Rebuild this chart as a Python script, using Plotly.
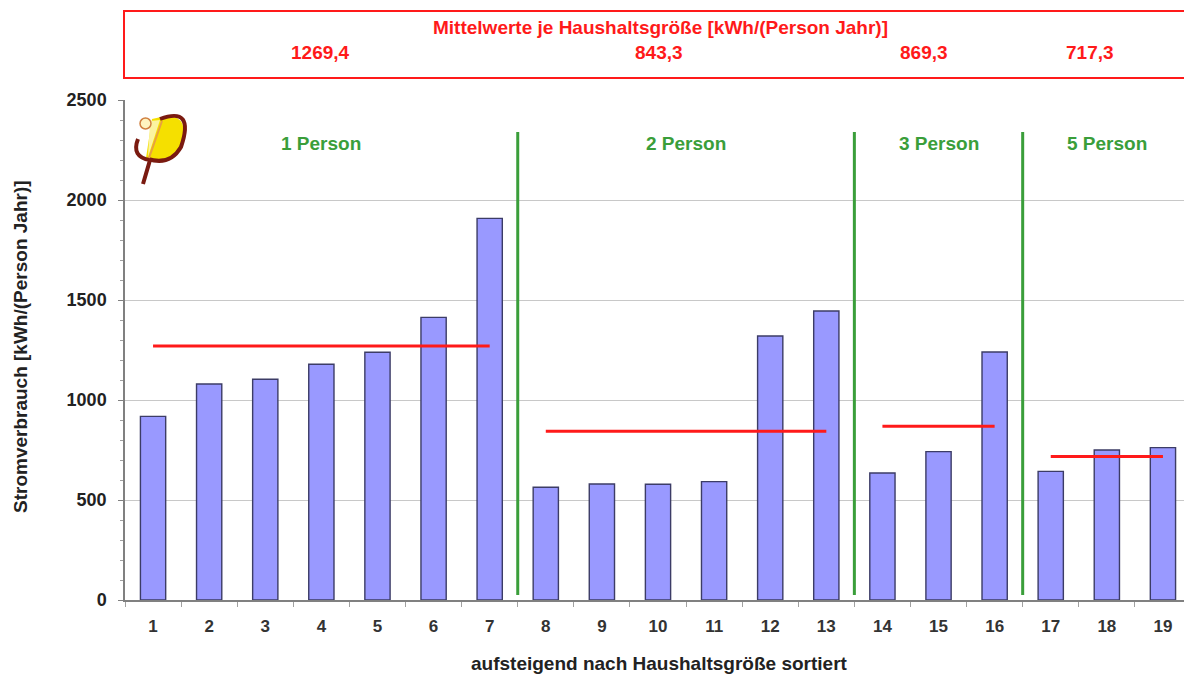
import plotly.graph_objects as go

# ---------------- data ----------------
households = [str(i) for i in range(1, 20)]
consumption = [918, 1080, 1104, 1179, 1239, 1413, 1908,
               564, 580, 579, 592, 1320, 1445,
               635, 742, 1240,
               643, 750, 762]
group_labels = ["1 Person", "2 Person", "3 Person", "5 Person"]
group_sizes = [7, 6, 3, 3]
group_means = [1269.4, 843.3, 869.3, 717.3]
mean_labels = ["1269,4", "843,3", "869,3", "717,3"]
box_title = "Mittelwerte je Haushaltsgröße [kWh/(Person Jahr)]"
y_title = "Stromverbrauch [kWh/(Person Jahr)]"
x_title = "aufsteigend nach Haushaltsgröße sortiert"

# ---------------- layout constants ----------------
# page body has an 8px margin: figure coords = screen coords - 8
OFF = 8
W, H = 1192 - OFF, 675 - OFF
PL, PR, PT, PB = 125, 1191, 100, 600          # plot area in screen px
ML, MR, MT, MB = PL - OFF, W - (PR - OFF), PT - OFF, H - (PB - OFF)
PW, PH = PR - PL, PB - PT
RED = "#ff1a1a"
GREEN = "#3a9e3a"
FONT = "Liberation Sans, Arial, sans-serif"


def px(x):
    return (x - PL) / PW


def py(y):
    return (PB - y) / PH


fig = go.Figure()

fig.add_trace(go.Bar(
    x=households, y=consumption, width=0.45,
    marker=dict(color="#9999ff", line=dict(color="#3c3c66", width=1.4)),
    showlegend=False, hoverinfo="x+y"))

# group mean lines and separators
start = 0
sep_positions = []
for g, n in enumerate(group_sizes):
    xs = [households[start], households[start + n - 1]]
    fig.add_trace(go.Scatter(x=xs, y=[group_means[g]] * 2, mode="lines",
                             line=dict(color=RED, width=3), showlegend=False,
                             hoverinfo="skip"))
    fig.add_annotation(x=start + (n - 1) / 2, y=2285, text="<b>%s</b>" % group_labels[g],
                       showarrow=False, xanchor="center", yanchor="middle",
                       font=dict(color=GREEN, size=19, family=FONT))
    start += n
    if g < len(group_sizes) - 1:
        sep_positions.append(start - 0.5)

for s in sep_positions:
    fig.add_shape(type="line", xref="x", yref="y", x0=s, x1=s, y0=25, y1=2340,
                  line=dict(color=GREEN, width=3))

# top box with means
fig.add_shape(type="rect", xref="paper", yref="paper",
              x0=px(124), x1=px(1205), y0=py(78), y1=py(11),
              line=dict(color=RED, width=2), fillcolor="white", layer="below")
fig.add_annotation(xref="paper", yref="paper", x=px(660), y=py(27),
                   text="<b>%s</b>" % box_title, showarrow=False,
                   xanchor="center", yanchor="middle",
                   font=dict(color=RED, size=19, family=FONT))
label_px = [320, 659, 924, 1090]
for lbl, xp in zip(mean_labels, label_px):
    fig.add_annotation(xref="paper", yref="paper", x=px(xp), y=py(53),
                       text="<b>%s</b>" % lbl, showarrow=False,
                       xanchor="center", yanchor="middle",
                       font=dict(color=RED, size=19, family=FONT))

# axis titles
fig.add_annotation(xref="paper", yref="paper", x=px(20), y=py(347),
                   text="<b>%s</b>" % y_title, textangle=-90, showarrow=False,
                   xanchor="center", yanchor="middle",
                   font=dict(color="#222222", size=19, family=FONT))
fig.add_annotation(xref="paper", yref="paper", x=px(659), y=py(663),
                   text="<b>%s</b>" % x_title, showarrow=False,
                   xanchor="center", yanchor="middle",
                   font=dict(color="#222222", size=19, family=FONT))

# logo (decoration)
logo_fill = "M %f,%f Q %f,%f %f,%f Q %f,%f %f,%f Z" % (
    px(152), py(119), px(194), py(108), px(180), py(146),
    px(170), py(164), px(146), py(158))
fig.add_shape(type="path", xref="paper", yref="paper", path=logo_fill,
              fillcolor="#f5e000", line=dict(width=0))
logo_pale = "M %f,%f L %f,%f L %f,%f Z" % (
    px(150), py(121), px(160), py(120), px(148), py(157))
fig.add_shape(type="path", xref="paper", yref="paper", path=logo_pale,
              fillcolor="#fbf3a0", line=dict(width=0))
logo_curve = "M %f,%f Q %f,%f %f,%f Q %f,%f %f,%f" % (
    px(160), py(119), px(195), py(106), px(181), py(147),
    px(170), py(166), px(148), py(159))
fig.add_shape(type="path", xref="paper", yref="paper", path=logo_curve,
              line=dict(color="#7a1a10", width=4))
logo_hook = "M %f,%f Q %f,%f %f,%f L %f,%f" % (
    px(138), py(139), px(131), py(157), px(150), py(160),
    px(143), py(184))
fig.add_shape(type="path", xref="paper", yref="paper", path=logo_hook,
              line=dict(color="#7a1a10", width=4))
fig.add_shape(type="line", xref="paper", yref="paper",
              x0=px(149), y0=py(158), x1=px(162), y1=py(121),
              line=dict(color="#e8a040", width=2))
fig.add_shape(type="circle", xref="paper", yref="paper",
              x0=px(140), x1=px(151), y0=py(129), y1=py(118),
              fillcolor="#fff4c0", line=dict(color="#d08040", width=1.5))

fig.update_layout(
    width=W, height=H,
    margin=dict(l=ML, r=MR, t=MT, b=MB),
    plot_bgcolor="white", paper_bgcolor="white",
    font=dict(family=FONT, color="#222222"),
    bargap=0.5,
    xaxis=dict(type="category", range=[-0.5, 18.5], showgrid=False,
               showline=True, linecolor="#808080", linewidth=1.5,
               ticks="outside", tickson="boundaries", ticklen=5, tickcolor="#a0a0a0",
               tickfont=dict(size=17, family=FONT, color="#333333"),
               ticklabelstandoff=10, fixedrange=True),
    yaxis=dict(range=[0, 2500], dtick=500, showgrid=True, gridcolor="#c8c8c8",
               gridwidth=1.2, showline=True, linecolor="#808080", linewidth=1.5,
               ticks="outside", ticklen=5, tickcolor="#808080",
               minor=dict(dtick=100, ticks="outside", ticklen=3, tickcolor="#a0a0a0",
                          showgrid=False),
               tickfont=dict(size=18, family=FONT, color="#222222"),
               ticklabelstandoff=8,
               tickformat="d", zeroline=False, fixedrange=True),
)
fig.update_xaxes(tickprefix="<b>", ticksuffix="</b>")
fig.update_yaxes(tickprefix="<b>", ticksuffix="</b>")

fig.write_html("out.html")
